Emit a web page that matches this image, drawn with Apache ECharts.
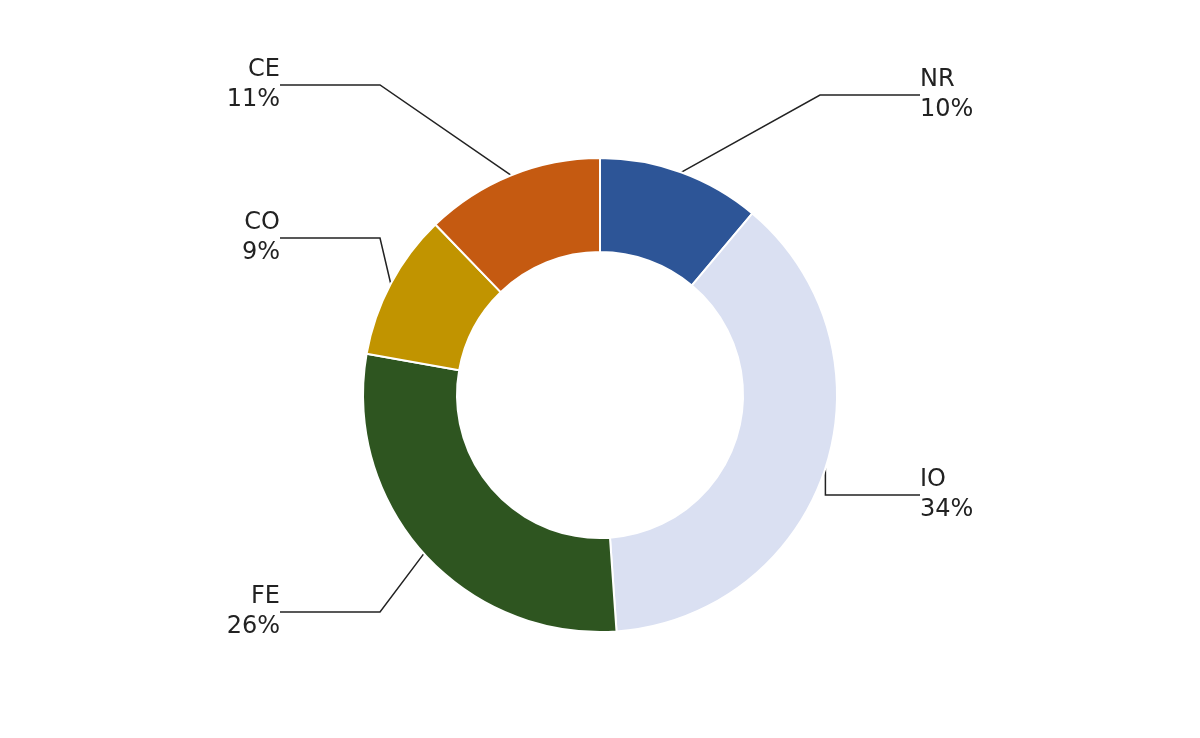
<!DOCTYPE html>
<html><head><meta charset="utf-8">
<script src="https://cdn.jsdelivr.net/npm/echarts@6/dist/echarts.min.js"></script>
<style>html,body{margin:0;background:#fff}#c{width:1200px;height:738px}</style>
</head><body><div id="c"></div>
<script>
const categories = ['NR','IO','FE','CO','CE'];
const values = [10,34,26,9,11];
const colors = ['#2d5597','#dae0f2','#2e5520','#c19400','#c55a11'];
const labelPos = [[920,95,'left'],[920,495,'left'],[280,612,'right'],[280,238,'right'],[280,85,'right']];
const chart = echarts.init(document.getElementById('c'));
chart.setOption({
  series:[{
    type:'pie', center:[600,395], radius:[143,237], startAngle:90, clockwise:true,
    data: categories.map((n,i)=>({name:n,value:values[i],itemStyle:{color:colors[i]}})),
    itemStyle:{borderColor:'#fff',borderWidth:2},
    label:{formatter:'{b}\n{c}%', fontSize:24, color:'#222', lineHeight:30, fontFamily:'DejaVu Sans'},
    labelLine:{show:true,length:40,length2:100,lineStyle:{color:'#222',width:1.5}},
    labelLayout:function(p){const l=labelPos[p.dataIndex];return {x:l[0],y:l[1],align:l[2],verticalAlign:'middle'};},
    emphasis:{disabled:true}
  }]
});
</script></body></html>
